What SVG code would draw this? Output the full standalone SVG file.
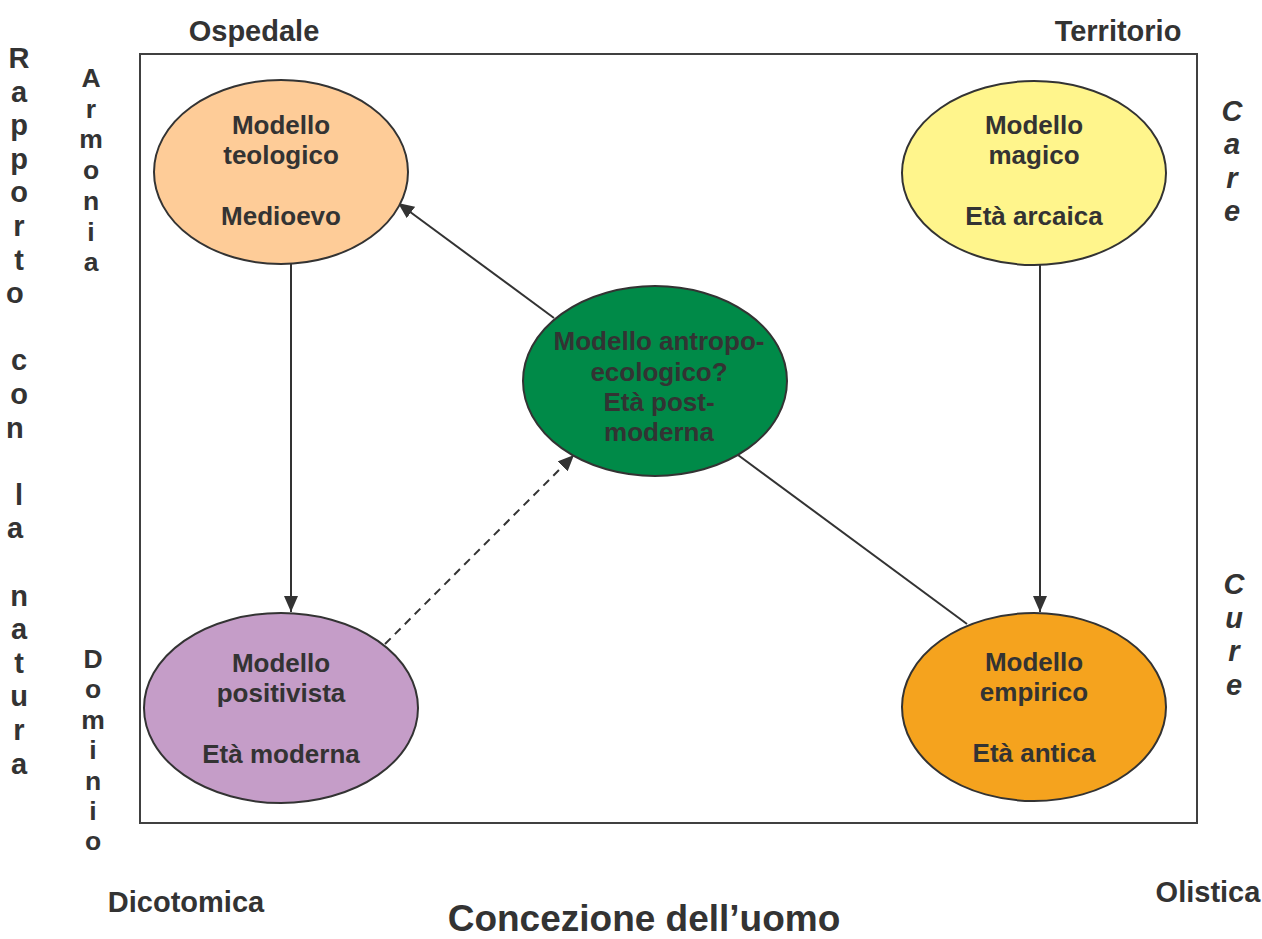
<svg xmlns="http://www.w3.org/2000/svg" width="1262" height="939" viewBox="0 0 1262 939">
<style>
text{font-family:"Liberation Sans",Arial,sans-serif;font-weight:bold;fill:#333333}
.node{font-size:26px;text-anchor:middle}
.lbl{font-size:29px;text-anchor:middle}
.vt{text-anchor:middle}
.it{font-style:italic}
.ell{stroke:#333333;stroke-width:2}
.con{stroke:#333333;stroke-width:2;fill:none}
</style>
<defs>
<marker id="ah" markerUnits="userSpaceOnUse" markerWidth="16" markerHeight="14" viewBox="0 0 16 14" refX="16" refY="7" orient="auto">
<path d="M0,0 L16,7 L0,14 Z" fill="#333333"/>
</marker>
</defs>
<rect x="140" y="54" width="1057" height="769" fill="#ffffff" stroke="#404040" stroke-width="2"/>
<g id="connectors">
<line class="con" x1="291" y1="264" x2="291" y2="612" marker-end="url(#ah)"/>
<line class="con" x1="1040" y1="264" x2="1040" y2="612" marker-end="url(#ah)"/>
<line class="con" x1="554" y1="318" x2="398" y2="203" marker-end="url(#ah)"/>
<line class="con" x1="385" y1="644" x2="574" y2="455" stroke-dasharray="8,6" marker-end="url(#ah)"/>
<line class="con" x1="738" y1="455" x2="967" y2="624"/>
</g>
<g id="teologico">
<ellipse class="ell" cx="281" cy="172" rx="127" ry="92" fill="#FECC98"/>
<text class="node" x="281" y="134">Modello</text>
<text class="node" x="281" y="164">teologico</text>
<text class="node" x="281" y="225">Medioevo</text>
</g>
<g id="magico">
<ellipse class="ell" cx="1034" cy="173" rx="132" ry="92" fill="#FFF58C"/>
<text class="node" x="1034" y="134">Modello</text>
<text class="node" x="1034" y="164">magico</text>
<text class="node" x="1034" y="225">Età arcaica</text>
</g>
<g id="antropoecologico">
<ellipse class="ell" cx="655" cy="381" rx="132" ry="95" fill="#008A48"/>
<text class="node" x="659" y="350">Modello antropo-</text>
<text class="node" x="659" y="381">ecologico?</text>
<text class="node" x="659" y="411">Età post-</text>
<text class="node" x="659" y="441">moderna</text>
</g>
<g id="positivista">
<ellipse class="ell" cx="281" cy="708" rx="137" ry="95" fill="#C59DC8"/>
<text class="node" x="281" y="672">Modello</text>
<text class="node" x="281" y="702">positivista</text>
<text class="node" x="281" y="763">Età moderna</text>
</g>
<g id="empirico">
<ellipse class="ell" cx="1034" cy="707" rx="132" ry="94" fill="#F5A31E"/>
<text class="node" x="1034" y="671">Modello</text>
<text class="node" x="1034" y="701">empirico</text>
<text class="node" x="1034" y="762">Età antica</text>
</g>
<g id="labels">
<text class="lbl" x="254" y="41" font-size="28">Ospedale</text>
<text class="lbl" x="1118" y="41">Territorio</text>
<text class="lbl" x="186" y="912">Dicotomica</text>
<text class="lbl" x="1208" y="902">Olistica</text>
<text x="644" y="931" font-size="37" text-anchor="middle">Concezione dell’uomo</text>
<text class="vt" font-size="29">
<tspan x="19" y="68">R</tspan><tspan x="19" y="101.6">a</tspan><tspan x="19" y="135.2">p</tspan><tspan x="19" y="168.8">p</tspan><tspan x="19" y="202.4">o</tspan><tspan x="19" y="236">r</tspan><tspan x="19" y="269.6">t</tspan><tspan x="19" y="303.2">o</tspan>
<tspan x="19" y="370.4">c</tspan><tspan x="19" y="404">o</tspan><tspan x="19" y="437.6">n</tspan>
<tspan x="19" y="504.8">l</tspan><tspan x="19" y="538.4">a</tspan>
<tspan x="19" y="605.6">n</tspan><tspan x="19" y="639.2">a</tspan><tspan x="19" y="672.8">t</tspan><tspan x="19" y="706.4">u</tspan><tspan x="19" y="740">r</tspan><tspan x="19" y="773.6">a</tspan>
</text>
<text class="vt" font-size="26.5">
<tspan x="91" y="87">A</tspan><tspan x="91" y="117.7">r</tspan><tspan x="91" y="148.4">m</tspan><tspan x="91" y="179.1">o</tspan><tspan x="91" y="209.8">n</tspan><tspan x="91" y="240.5">i</tspan><tspan x="91" y="271.2">a</tspan>
</text>
<text class="vt" font-size="26.5">
<tspan x="93" y="668">D</tspan><tspan x="93" y="698.4">o</tspan><tspan x="93" y="728.8">m</tspan><tspan x="93" y="759.2">i</tspan><tspan x="93" y="789.6">n</tspan><tspan x="93" y="820">i</tspan><tspan x="93" y="850.4">o</tspan>
</text>
<text class="vt it" font-size="29">
<tspan x="1232" y="121">C</tspan><tspan x="1232" y="154.4">a</tspan><tspan x="1232" y="187.8">r</tspan><tspan x="1232" y="221.2">e</tspan>
</text>
<text class="vt it" font-size="29">
<tspan x="1234" y="594">C</tspan><tspan x="1234" y="627.6">u</tspan><tspan x="1234" y="661.2">r</tspan><tspan x="1234" y="694.8">e</tspan>
</text>
</g>
</svg>
